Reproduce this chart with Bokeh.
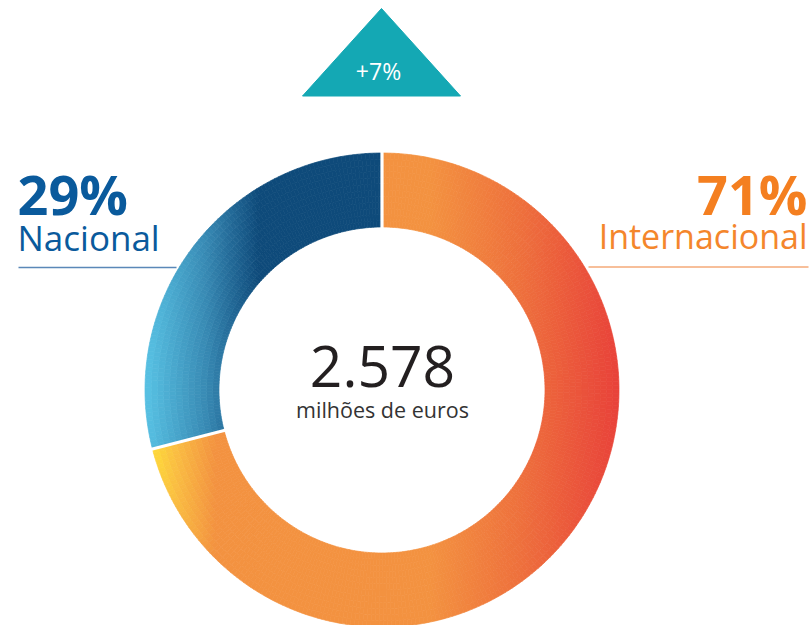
import numpy as np
from bokeh.plotting import figure
from bokeh.models import Range1d, ColumnDataSource
from bokeh.embed import file_html
from bokeh.resources import INLINE
from bokeh.core.properties import value

# ---- data ----
segments = ["Nacional", "Internacional"]
shares = [29, 71]
share_labels = ["29%", "71%"]
total_label = "2.578"
unit_label = "milhões de euros"
growth_label = "+7%"

FONT = "Open Sans"
W, H = 811, 625

def Y(sy):
    return H - sy

def BL(sy, size):
    # baseline correction for Bokeh's alphabetic placement
    return Y(sy - 0.42 * size)

p = figure(width=W, height=H, x_range=Range1d(0, W), y_range=Range1d(0, H),
           output_backend="svg", toolbar_location=None, min_border=0,
           x_axis_type=None, y_axis_type=None)
p.grid.visible = False
p.outline_line_color = None
p.background_fill_color = "white"
p.border_fill_color = "white"

cx, cy = 381.5, Y(389.5)
R_out, R_in = 237.0, 163.0

# horizontal gradient stops (screen x -> rgb)
grad = {
    "Nacional": [(145, (88, 194, 228)), (205, (56, 138, 180)), (232, (34, 104, 150)),
                 (258, (14, 74, 122)), (420, (14, 74, 122))],
    "Internacional": [(148, (255, 224, 56)), (175, (250, 190, 66)), (215, (243, 146, 64)),
                      (430, (243, 146, 64)), (520, (238, 112, 60)), (622, (232, 64, 58))],
}

def color_at(name, x):
    st = grad[name]
    xs = [s[0] for s in st]
    out = []
    for k in range(3):
        out.append(int(round(np.interp(x, xs, [s[1][k] for s in st]))))
    return "#%02x%02x%02x" % tuple(out)

total = sum(shares)
start_deg = 90.0
rings = 12
cells = dict(sa=[], ea=[], ri=[], ro=[], c=[])
boundaries = []
a = start_deg
for name, v in zip(segments, shares):
    span = 360.0 * v / total
    a0, a1 = a, a + span
    boundaries.append(a0)
    n = int(np.ceil(span / 1.0))
    edges = np.linspace(a0, a1, n + 1)
    redges = np.linspace(R_in, R_out, rings + 1)
    for i in range(n):
        am = np.radians((edges[i] + edges[i + 1]) / 2)
        for j in range(rings):
            rm = (redges[j] + redges[j + 1]) / 2
            x = cx + rm * np.cos(am)
            cells["sa"].append(np.radians(edges[i]))
            cells["ea"].append(np.radians(edges[i + 1]))
            cells["ri"].append(redges[j])
            cells["ro"].append(redges[j + 1])
            cells["c"].append(color_at(name, x))
    a = a1

src = ColumnDataSource(cells)
p.annular_wedge(x=cx, y=cy, inner_radius="ri", outer_radius="ro", start_angle="sa", end_angle="ea",
                fill_color="c", line_color="c", line_width=0.7, source=src)

# white separators between slices
bx0, by0, bx1, by1 = [], [], [], []
for b in boundaries:
    t = np.radians(b)
    bx0.append(cx + (R_in - 3) * np.cos(t)); by0.append(cy + (R_in - 3) * np.sin(t))
    bx1.append(cx + (R_out + 3) * np.cos(t)); by1.append(cy + (R_out + 3) * np.sin(t))
p.segment(bx0, by0, bx1, by1, line_color="white", line_width=3.2)

# growth triangle
p.patch([302, 381, 460], [Y(95.5), Y(8), Y(95.5)], fill_color="#14a8b4", line_color="#14a8b4")
p.text(x=[378], y=[BL(80, 23)], text=[growth_label], text_color="white", text_font=value(FONT),
       text_font_size="23px", text_align="center", text_baseline="alphabetic")

# center labels
p.text(x=[382], y=[BL(390, 57)], text=[total_label], text_color="#231f20", text_font=value(FONT),
       text_font_size="57px", text_align="center", text_baseline="alphabetic")
p.text(x=[382], y=[BL(418, 21.5)], text=[unit_label], text_color="#333333", text_font=value(FONT),
       text_font_size="21.5px", text_align="center", text_baseline="alphabetic")

# side labels
p.text(x=[17], y=[BL(216, 54)], text=[share_labels[0]], text_color="#0a5a9c", text_font=value(FONT),
       text_font_style="bold", text_font_size="54px", text_align="left", text_baseline="alphabetic")
p.text(x=[17], y=[BL(252, 35)], text=[segments[0]], text_color="#0a5a9c", text_font=value(FONT),
       text_font_size="35px", text_align="left", text_baseline="alphabetic")
p.segment([18], [Y(267)], [176], [Y(267)], line_color="#5a88b8", line_width=1.5)

p.text(x=[807], y=[BL(216, 54)], text=[share_labels[1]], text_color="#f47f20", text_font=value(FONT),
       text_font_style="bold", text_font_size="54px", text_align="right", text_baseline="alphabetic")
p.text(x=[807], y=[BL(250, 34)], text=[segments[1]], text_color="#f4862c", text_font=value(FONT),
       text_font_size="34px", text_align="right", text_baseline="alphabetic")
p.segment([588], [Y(266.5)], [808], [Y(266.5)], line_color="#f5aa78", line_width=1.5)

open("out.html", "w").write(file_html(p, INLINE))
